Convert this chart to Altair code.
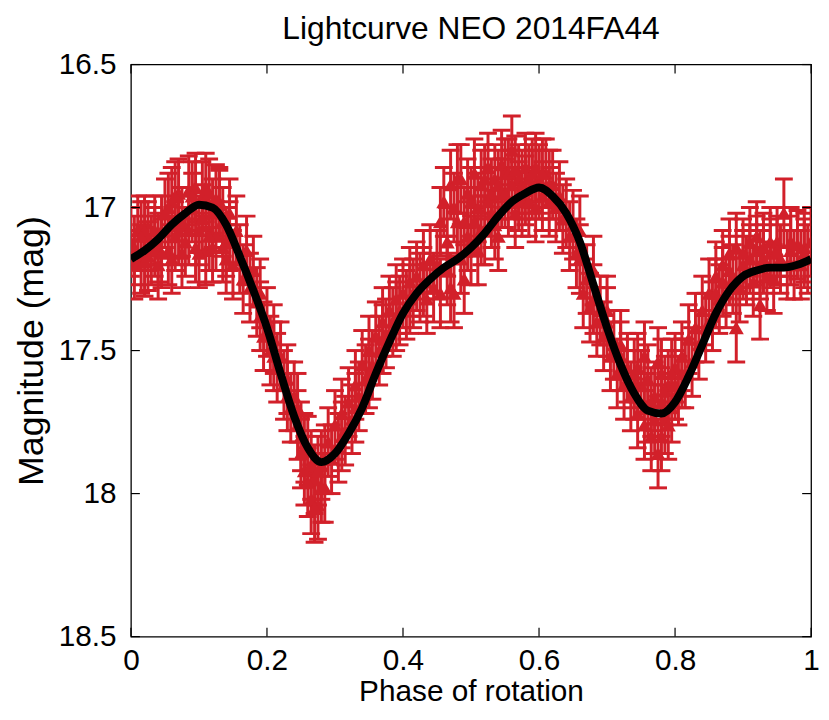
import altair as alt
import pandas as pd

# ---------------- data ----------------
obs_phase = [
    0.000, 0.005, 0.010, 0.015, 0.020, 0.025, 0.030, 0.035, 0.040, 0.045,
    0.050, 0.055, 0.060, 0.065, 0.070, 0.075, 0.080, 0.085, 0.090, 0.095,
    0.100, 0.105, 0.110, 0.115, 0.120, 0.125, 0.130, 0.135, 0.140, 0.145,
    0.150, 0.155, 0.160, 0.165, 0.170, 0.175, 0.180, 0.185, 0.190, 0.195,
    0.200, 0.205, 0.210, 0.215, 0.220, 0.225, 0.230, 0.235, 0.240, 0.245,
    0.250, 0.255, 0.260, 0.265, 0.270, 0.275, 0.280, 0.285, 0.290, 0.295,
    0.300, 0.305, 0.310, 0.315, 0.320, 0.325, 0.330, 0.335, 0.340, 0.345,
    0.350, 0.355, 0.360, 0.365, 0.370, 0.375, 0.380, 0.385, 0.390, 0.395,
    0.400, 0.405, 0.410, 0.415, 0.420, 0.425, 0.430, 0.435, 0.440, 0.445,
    0.450, 0.455, 0.460, 0.465, 0.470, 0.475, 0.480, 0.485, 0.490, 0.495,
    0.500, 0.505, 0.510, 0.515, 0.520, 0.525, 0.530, 0.535, 0.540, 0.545,
    0.550, 0.555, 0.560, 0.565, 0.570, 0.575, 0.580, 0.585, 0.590, 0.595,
    0.600, 0.605, 0.610, 0.615, 0.620, 0.625, 0.630, 0.635, 0.640, 0.645,
    0.650, 0.655, 0.660, 0.665, 0.670, 0.675, 0.680, 0.685, 0.690, 0.695,
    0.700, 0.705, 0.710, 0.715, 0.720, 0.725, 0.730, 0.735, 0.740, 0.745,
    0.750, 0.755, 0.760, 0.765, 0.770, 0.775, 0.780, 0.785, 0.790, 0.795,
    0.800, 0.805, 0.810, 0.815, 0.820, 0.825, 0.830, 0.835, 0.840, 0.845,
    0.850, 0.855, 0.860, 0.865, 0.870, 0.875, 0.880, 0.885, 0.890, 0.895,
    0.900, 0.905, 0.910, 0.915, 0.920, 0.925, 0.930, 0.935, 0.940, 0.945,
    0.950, 0.955, 0.960, 0.965, 0.970, 0.975, 0.980, 0.985, 0.990, 0.995,
    1.000,
]
obs_mag = [
    17.12, 17.20, 17.08, 17.18, 17.19, 17.10, 17.15, 17.08, 17.20, 17.08,
    17.02, 17.15, 16.98, 17.10, 16.95, 17.05, 17.12, 16.94, 17.00, 16.93,
    17.08, 16.96, 17.15, 16.95, 17.02, 17.10, 16.98, 17.05, 17.12, 17.02,
    17.20, 17.08, 17.18, 17.25, 17.15, 17.28, 17.22, 17.33, 17.38, 17.45,
    17.40, 17.50, 17.46, 17.56, 17.52, 17.62, 17.60, 17.70, 17.66, 17.76,
    17.80, 17.92, 17.85, 18.02, 17.95, 18.04, 17.90, 17.98, 17.82, 17.88,
    17.76, 17.84, 17.72, 17.78, 17.68, 17.74, 17.62, 17.66, 17.55, 17.60,
    17.50, 17.55, 17.45, 17.50, 17.40, 17.44, 17.36, 17.40, 17.32, 17.36,
    17.30, 17.34, 17.26, 17.30, 17.24, 17.28, 17.20, 17.32, 17.18, 17.28,
    17.20, 17.30, 16.98, 17.22, 16.92, 17.30, 17.05, 16.90, 17.25, 16.95,
    17.15, 16.88, 17.15, 16.92, 17.08, 16.86, 17.02, 16.90, 17.10, 16.85,
    16.88, 16.98, 16.80, 17.02, 16.90, 16.98, 16.86, 16.98, 16.92, 17.00,
    16.90, 16.96, 16.88, 16.98, 16.92, 17.00, 16.96, 17.04, 17.02, 17.10,
    17.06, 17.16, 17.18, 17.30, 17.25, 17.35, 17.32, 17.40, 17.36, 17.45,
    17.40, 17.52, 17.48, 17.58, 17.52, 17.62, 17.56, 17.66, 17.58, 17.72,
    17.62, 17.76, 17.60, 17.80, 17.66, 17.86, 17.58, 17.74, 17.62, 17.70,
    17.56, 17.64, 17.52, 17.58, 17.46, 17.54, 17.42, 17.48, 17.36, 17.42,
    17.30, 17.38, 17.24, 17.32, 17.20, 17.30, 17.16, 17.25, 17.14, 17.28,
    17.16, 17.22, 17.12, 17.26, 17.15, 17.20, 17.14, 17.24, 17.12, 17.25,
    17.12, 17.18, 17.02, 17.20, 17.15, 17.20, 17.13, 17.20, 17.14, 17.18,
    17.12,
]
extra_phase = [
    0.020, 0.040, 0.060, 0.070, 0.090, 0.100, 0.110, 0.120, 0.130, 0.140,
    0.250, 0.260, 0.270, 0.280,
    0.470, 0.480, 0.490, 0.500, 0.510, 0.520, 0.530, 0.540, 0.555, 0.565,
    0.575, 0.585, 0.590, 0.600,
    0.755, 0.770, 0.775, 0.780, 0.790,
    0.890, 0.920, 0.925,
    0.005, 0.015, 0.025, 0.035, 0.045, 0.055, 0.065, 0.075, 0.085, 0.095,
    0.105, 0.115, 0.125, 0.135, 0.145,
    0.190, 0.210, 0.230, 0.245, 0.255, 0.265, 0.275, 0.285,
    0.310, 0.330, 0.350, 0.370, 0.390, 0.410, 0.430,
    0.455, 0.465, 0.475, 0.485, 0.495, 0.505, 0.515, 0.525, 0.535, 0.545,
    0.550, 0.560, 0.570, 0.580, 0.595, 0.605, 0.615,
    0.660, 0.680, 0.700, 0.720, 0.740, 0.745, 0.760, 0.765, 0.780, 0.785,
    0.795, 0.800, 0.810,
    0.860, 0.870, 0.880, 0.900, 0.910, 0.930, 0.940, 0.950, 0.970, 0.990,
]
extra_mag = [
    17.08, 17.14, 17.18, 17.08, 16.96, 17.16, 16.93, 17.14, 16.99, 17.18,
    17.86, 17.96, 18.05, 17.98,
    17.28, 16.90, 17.05, 16.98, 17.00, 16.90, 16.95, 16.92, 16.88, 16.87,
    16.92, 16.90, 16.88, 16.92,
    17.52, 17.74, 17.54, 17.80, 17.76,
    17.42, 17.10, 17.34,
    17.15, 17.10, 17.17, 17.12, 17.16, 17.00, 16.96, 17.16, 17.08, 17.14,
    17.04, 17.10, 16.97, 17.14, 17.10,
    17.30, 17.52, 17.66, 17.70, 17.84, 17.90, 17.92, 17.88,
    17.80, 17.70, 17.58, 17.46, 17.38, 17.32, 17.26,
    17.05, 17.12, 17.00, 17.18, 17.10, 17.05, 17.08, 16.98, 17.06, 16.95,
    16.95, 16.92, 16.96, 16.94, 16.86, 16.88, 16.92,
    17.08, 17.22, 17.36, 17.48, 17.62, 17.56, 17.70, 17.68, 17.68, 17.64,
    17.58, 17.62, 17.58,
    17.30, 17.26, 17.22, 17.20, 17.18, 17.18, 17.16, 17.15, 17.12, 17.16,
]
mag_err = 0.12

fit_phase = [
    0.00, 0.02, 0.04, 0.06, 0.08, 0.10, 0.12, 0.14, 0.16, 0.18,
    0.20, 0.22, 0.24, 0.26, 0.28, 0.30, 0.32, 0.34, 0.36, 0.38,
    0.40, 0.42, 0.44, 0.46, 0.48, 0.50, 0.52, 0.54, 0.56, 0.58,
    0.60, 0.62, 0.64, 0.66, 0.68, 0.70, 0.72, 0.74, 0.76, 0.78,
    0.80, 0.82, 0.84, 0.86, 0.88, 0.90, 0.92, 0.94, 0.96, 0.98,
    1.00,
]
fit_mag = [
    17.18, 17.15, 17.11, 17.06, 17.02, 16.99, 17.00, 17.06, 17.17, 17.29,
    17.42, 17.58, 17.73, 17.84, 17.89, 17.86, 17.79, 17.70, 17.58, 17.47,
    17.37, 17.30, 17.25, 17.21, 17.18, 17.14, 17.09, 17.03, 16.98, 16.95,
    16.93, 16.96, 17.02, 17.12, 17.27, 17.42, 17.55, 17.65, 17.71, 17.72,
    17.68, 17.59, 17.48, 17.37, 17.29, 17.24, 17.22, 17.21, 17.21, 17.20,
    17.18,
]

x_ticks = [0, 0.2, 0.4, 0.6, 0.8, 1]
y_ticks = [16.5, 17, 17.5, 18, 18.5]

# ---------------- styling ----------------
RED = "#D2202A"
FONT = "Liberation Sans"
W, H = 686, 577

obs = pd.DataFrame({"phase": obs_phase + extra_phase, "mag": obs_mag + extra_mag})
obs["lo"] = obs["mag"] - mag_err
obs["hi"] = obs["mag"] + mag_err
fit = pd.DataFrame({"phase": fit_phase, "mag": fit_mag})
xt = pd.DataFrame({"phase": x_ticks})
yt = pd.DataFrame({"lo": y_ticks})

xs = alt.Scale(domain=[0, 1], nice=False, zero=False)
ys = alt.Scale(domain=[16.5, 18.5], reverse=True, nice=False, zero=False)

x_axis = alt.Axis(
    values=x_ticks, format="~g", title="Phase of rotation", ticks=False,
    domain=False, grid=False, labelFontSize=30, titleFontSize=30,
    labelPadding=9, titlePadding=1, labelFont=FONT, titleFont=FONT,
    labelColor="black", titleColor="black", titleFontWeight="normal",
    labelFlush=False,
)
y_axis = alt.Axis(
    values=y_ticks, format="~g", title="Magnitude (mag)", ticks=False,
    domain=False, grid=False, labelFontSize=30, titleFontSize=36,
    labelPadding=15, titlePadding=8, labelFont=FONT, titleFont=FONT,
    labelColor="black", titleColor="black", titleFontWeight="normal",
    labelFlush=False,
)

X = alt.X("phase:Q", scale=xs, axis=x_axis)
base = alt.Chart(obs)
bars = base.mark_rule(color=RED, strokeWidth=3, opacity=1, clip=True).encode(
    x=X,
    y=alt.Y("lo:Q", scale=ys, axis=y_axis),
    y2="hi:Q",
)
cap_lo = base.mark_tick(color=RED, orient="horizontal", size=18, thickness=3, opacity=1, clip=True).encode(
    x=X, y=alt.Y("lo:Q", scale=ys, axis=y_axis),
)
cap_hi = base.mark_tick(color=RED, orient="horizontal", size=18, thickness=3, opacity=1, clip=True).encode(
    x=X, y=alt.Y("hi:Q", scale=ys, axis=y_axis, title="Magnitude (mag)"),
)
pts = base.mark_point(shape="triangle-up", filled=True, size=230, color=RED, opacity=1, clip=True).encode(
    x=X, y=alt.Y("mag:Q", scale=ys, axis=y_axis),
)
fit_line = alt.Chart(fit).mark_line(color="black", strokeWidth=8, interpolate="monotone", clip=True).encode(
    x=X, y=alt.Y("mag:Q", scale=ys, axis=y_axis),
)

TL = 9
tick_bottom = alt.Chart(xt).mark_rule(color="black", strokeWidth=1.2).encode(
    x=X, y=alt.value(H), y2=alt.value(H - TL))
tick_top = alt.Chart(xt).mark_rule(color="black", strokeWidth=1.2).encode(
    x=X, y=alt.value(0), y2=alt.value(TL))
tick_left = alt.Chart(yt).mark_rule(color="black", strokeWidth=1.2).encode(
    y=alt.Y("lo:Q", scale=ys, axis=y_axis), x=alt.value(0), x2=alt.value(TL))
tick_right = alt.Chart(yt).mark_rule(color="black", strokeWidth=1.2).encode(
    y=alt.Y("lo:Q", scale=ys, axis=y_axis), x=alt.value(W), x2=alt.value(W - TL))

chart = alt.layer(
    bars, cap_lo, cap_hi, pts, fit_line, tick_bottom, tick_top, tick_left, tick_right
).properties(
    width=W,
    height=H,
    title=alt.TitleParams(
        text="Lightcurve NEO 2014FA44", fontSize=32, font=FONT,
        fontWeight="normal", color="black", anchor="middle", offset=10, dy=6,
    ),
    autosize=alt.AutoSizeParams(type="none"),
    padding={"left": 124, "top": 54, "right": 10, "bottom": 69},
).configure(
    background="white",
    view=alt.ViewConfig(stroke="black", strokeWidth=1.3),
)

chart.save("out.html", embed_options={"renderer": "svg", "actions": False})
